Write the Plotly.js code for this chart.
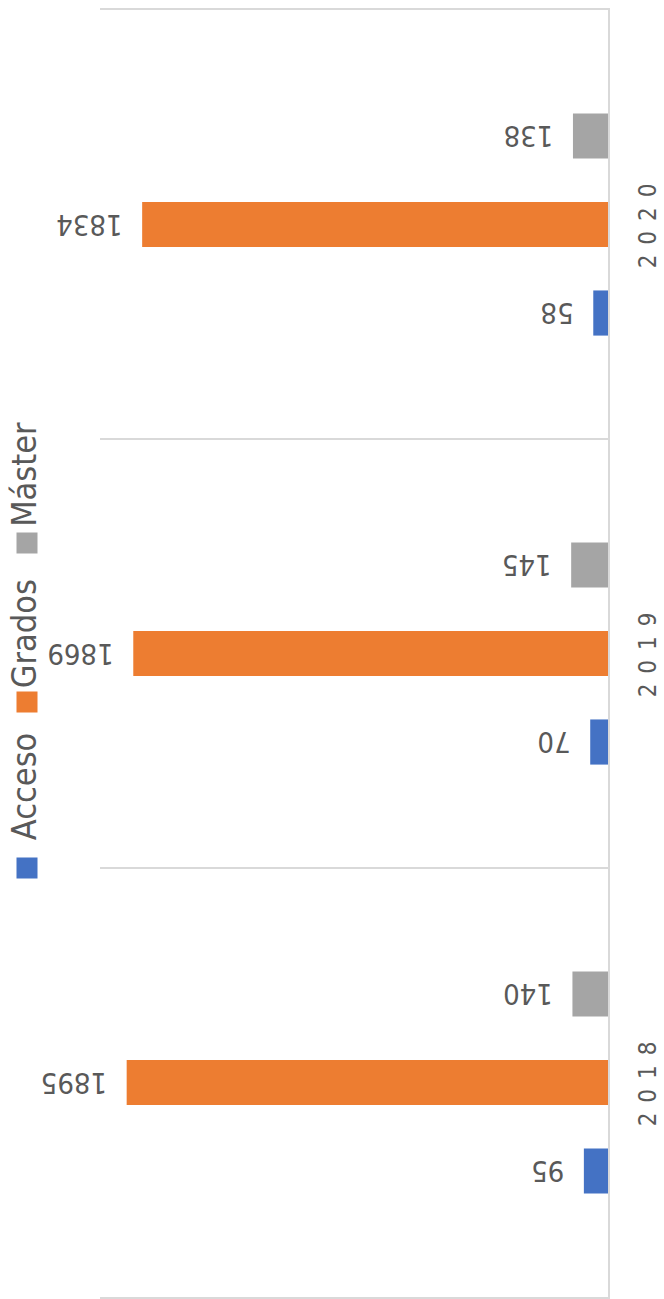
<!DOCTYPE html>
<html>
<head>
<meta charset="utf-8">
<script src="https://cdn.plot.ly/plotly-3.0.1.min.js"></script>
<style>
  html, body { margin: 0; padding: 0; background: #ffffff; }
  #chart { width: 664px; height: 1299px; }
  .yaxislayer-above text, .yaxislayer-below text { letter-spacing: 10px; }
</style>
</head>
<body>
<div id="chart"></div>
<script>
// ---- data ----
const years = ['2018', '2019', '2020'];
const acceso = [95, 70, 58];
const grados = [1895, 1869, 1834];
const master = [140, 145, 138];
const seriesNames = ['Acceso', 'Grados', 'Máster'];
const seriesValues = [acceso, grados, master];
const seriesColors = ['#4472C4', '#ED7D31', '#A5A5A5'];

const FONT = '"Liberation Sans Narrow", "DejaVu Sans Condensed", "Liberation Sans", sans-serif';
const TEXT = '#595959';
const GRID = '#d9d9d9';

const traces = seriesNames.map((name, i) => ({
  type: 'bar',
  orientation: 'h',
  name: name,
  y: years,
  x: seriesValues[i],
  marker: { color: seriesColors[i] },
  text: seriesValues[i].map(String),
  texttemplate: '\u00a0\u00a0%{text}',
  textposition: 'outside',
  textangle: 180,
  textfont: { family: FONT, size: 29, color: TEXT },
  constraintext: 'none',
  cliponaxis: false,
  hoverinfo: 'skip'
}));

// legend drawn as rotated annotations (reads bottom-to-top)
const legendSquareY = [0.3336, 0.4621, 0.5860];
const legendTextY = [0.3969, 0.5157, 0.6396];
const legendX = -0.1437;
const annotations = [];
seriesNames.forEach((name, i) => {
  annotations.push({
    xref: 'paper', yref: 'paper', x: legendX, y: legendSquareY[i],
    xanchor: 'center', yanchor: 'middle',
    text: '\u00a0', showarrow: false,
    bgcolor: seriesColors[i], width: 20, height: 20, borderpad: 0,
    font: { size: 4 }
  });
  annotations.push({
    xref: 'paper', yref: 'paper', x: legendX - 0.006, y: legendTextY[i],
    xanchor: 'center', yanchor: 'middle',
    text: name, textangle: -90, showarrow: false,
    font: { family: FONT, size: 34, color: TEXT }
  });
});

const layout = {
  width: 664, height: 1299,
  margin: { l: 100, r: 56, t: 10, b: 2, pad: 0 },
  paper_bgcolor: '#ffffff', plot_bgcolor: '#ffffff',
  barmode: 'group', bargap: 0.381, bargroupgap: 0.49,
  showlegend: false,
  font: { family: FONT, color: TEXT },
  xaxis: {
    range: [2000, 0], showgrid: false, zeroline: false,
    showticklabels: false, ticks: '',
    showline: true, mirror: true, linecolor: GRID, linewidth: 2,
    fixedrange: true
  },
  yaxis: {
    type: 'category', categoryorder: 'array', categoryarray: years,
    side: 'right', tickson: 'boundaries', ticks: '',
    showgrid: true, gridcolor: GRID, gridwidth: 2,
    showline: true, linecolor: GRID, linewidth: 2,
    tickangle: -90, ticklabelstandoff: 17,
    tickfont: { family: FONT, size: 24, color: TEXT },
    fixedrange: true
  },
  annotations: annotations
};

Plotly.newPlot('chart', traces, layout, { displayModeBar: false, staticPlot: true });
</script>
</body>
</html>
